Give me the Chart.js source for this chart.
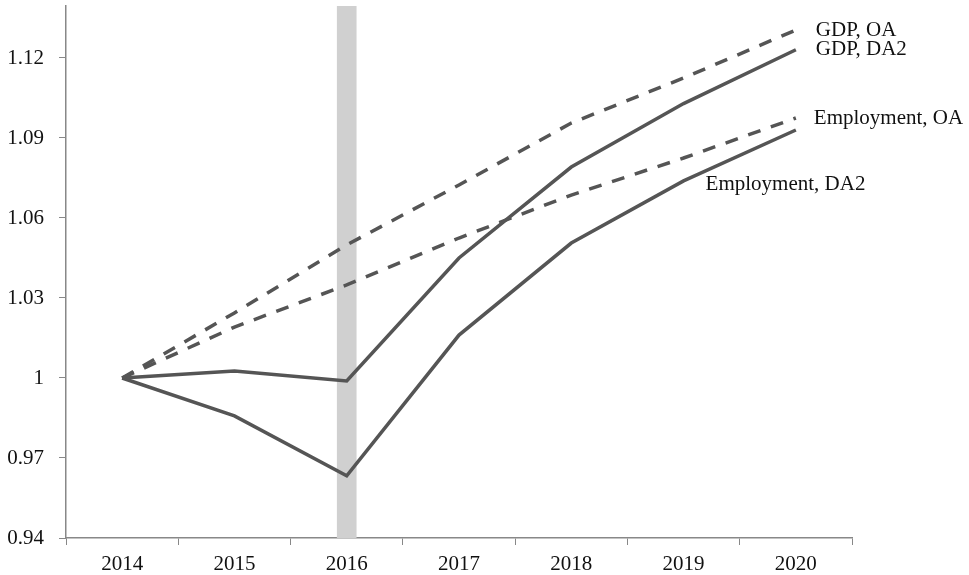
<!DOCTYPE html>
<html>
<head>
<meta charset="utf-8">
<script src="https://cdn.jsdelivr.net/npm/chart.js@4/dist/chart.umd.min.js"></script>
<style>
  html, body { margin: 0; padding: 0; background: #fff; }
  #wrap { width: 969px; height: 575px; }
</style>
</head>
<body>
<div id="wrap"><canvas id="chart" width="969" height="575"></canvas></div>
<script>
const years = ['2014', '2015', '2016', '2017', '2018', '2019', '2020'];
const gdpOA = [1, 1.0244, 1.0499, 1.0724, 1.0956, 1.1125, 1.1305];
const gdpDA2 = [1, 1.0026, 0.9989, 1.045, 1.0791, 1.1029, 1.1231];
const empOA = [1, 1.0191, 1.0349, 1.0525, 1.0686, 1.0825, 1.0975];
const empDA2 = [1, 0.9858, 0.9633, 1.0161, 1.0506, 1.0739, 1.093];
const yTicks = [0.94, 0.97, 1, 1.03, 1.06, 1.09, 1.12];
const yMin = 0.94, yMax = 1.1395;
const shadedYear = '2016';

// series labels drawn next to the lines (dx/dy are pixel offsets from a point)
const seriesLabels = [
    { text: 'GDP, OA', ds: 0, idx: 6, dx: 20, dy: 0 },
    { text: 'GDP, DA2', ds: 1, idx: 6, dx: 20, dy: 0 },
    { text: 'Employment, OA', ds: 2, idx: 6, dx: 18, dy: 0 },
    { text: 'Employment, DA2', ds: 3, idx: 5, dx: 22, dy: 4 }
];

const shaded = years.map(y => y === shadedYear ? [yMin, yMax] : null);
const lineColor = '#555';
const font = { family: '"Liberation Serif", "Times New Roman", serif', size: 21 };

const labelPlugin = {
    id: 'seriesLabels',
    afterDatasetsDraw(chart) {
        const c = chart.ctx;
        c.save();
        c.font = font.size + 'px ' + font.family;
        c.fillStyle = '#111';
        c.textBaseline = 'middle';
        c.textAlign = 'left';
        seriesLabels.forEach(l => {
            const pt = chart.getDatasetMeta(l.ds + 1).data[l.idx];
            c.fillText(l.text, pt.x + l.dx, pt.y + l.dy);
        });
        c.restore();
    }
};

const ctx = document.getElementById('chart').getContext('2d');
new Chart(ctx, {
    data: {
        labels: years,
        datasets: [
            {
                type: 'bar',
                data: shaded,
                backgroundColor: '#d0d0d0',
                barThickness: 19,
                grouped: false,
                order: 10
            },
            { type: 'line', label: 'GDP, OA', data: gdpOA, borderColor: lineColor, borderWidth: 3.5, borderDash: [13, 11], pointRadius: 0, tension: 0 },
            { type: 'line', label: 'GDP, DA2', data: gdpDA2, borderColor: lineColor, borderWidth: 3.5, pointRadius: 0, tension: 0 },
            { type: 'line', label: 'Employment, OA', data: empOA, borderColor: lineColor, borderWidth: 3.5, borderDash: [13, 11], pointRadius: 0, tension: 0 },
            { type: 'line', label: 'Employment, DA2', data: empDA2, borderColor: lineColor, borderWidth: 3.5, pointRadius: 0, tension: 0 }
        ]
    },
    options: {
        responsive: false,
        animation: false,
        layout: { padding: { top: 6, right: 117, bottom: 0, left: 0 } },
        scales: {
            x: {
                offset: true,
                afterFit(scale) { scale.height = 37; },
                grid: { display: true, drawOnChartArea: false, offset: true, color: '#888', tickLength: 7 },
                border: { color: '#888', width: 1.5 },
                ticks: { color: '#111', font: font, padding: 7 }
            },
            y: {
                min: yMin,
                max: yMax,
                afterBuildTicks(scale) { scale.ticks = yTicks.map(v => ({ value: v })); },
                afterFit(scale) { scale.width = 66; scale.paddingTop = 0; scale.paddingBottom = 0; },
                grid: { display: true, drawOnChartArea: false, color: '#888', tickLength: 7 },
                border: { color: '#888', width: 1.5 },
                ticks: { color: '#111', font: font, padding: 15, callback: v => String(+v.toFixed(2)) }
            }
        },
        plugins: {
            legend: { display: false },
            tooltip: { enabled: false }
        }
    },
    plugins: [labelPlugin]
});
</script>
</body>
</html>
